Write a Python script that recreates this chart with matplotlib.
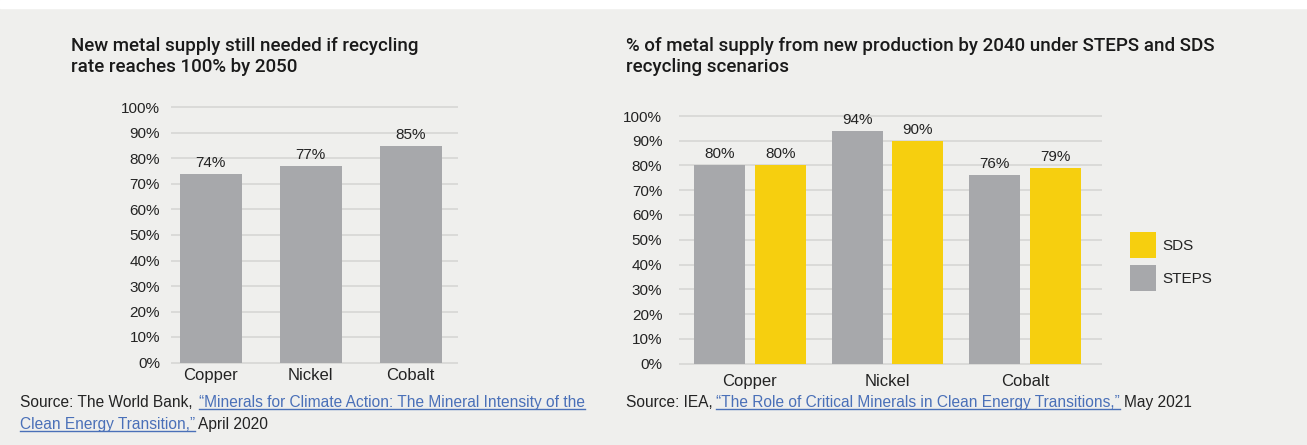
import matplotlib
matplotlib.use("Agg")
import matplotlib.pyplot as plt
from matplotlib.lines import Line2D
import numpy as np

plt.rcParams['font.family'] = ['Liberation Sans', 'DejaVu Sans']

# left chart (World Bank)
wb_metals = ["Copper", "Nickel", "Cobalt"]
wb_new_supply = [74, 77, 85]

# right chart (IEA)
iea_metals = ["Copper", "Nickel", "Cobalt"]
iea_steps = [80, 94, 76]
iea_sds = [80, 90, 79]

pct_ticks = list(range(0, 101, 10))

BG = "#efefed"
GREY = "#a7a8ab"
YELLOW = "#f6cf0f"
GRID = "#dadad8"
TXT = "#232323"
LINK = "#4a70b8"

W, H = 1307, 445
fig = plt.figure(figsize=(W / 100, H / 100), dpi=100, facecolor=BG)
fig.patches.append(plt.Rectangle((0, 1 - 8 / H), 1, 8 / H, transform=fig.transFigure,
                                 color="white", zorder=0))


def px_axes(x0, x1, y100, y0):
    # y100 / y0 = pixel rows of the 100% and 0% gridlines, pad 1 unit each side
    unit = (y0 - y100) / 100
    top = y100 - unit
    bot = y0 + unit
    ax = fig.add_axes([x0 / W, 1 - bot / H, (x1 - x0) / W, (bot - top) / H])
    ax.set_ylim(-1, 101)
    return ax


def style(ax, ypad, xpad):
    ax.set_facecolor("none")
    for s in ax.spines.values():
        s.set_visible(False)
    ax.set_yticks(pct_ticks)
    ax.set_yticklabels([f"{t}%" for t in pct_ticks])
    ax.yaxis.grid(True, color=GRID, lw=1.4)
    ax.set_axisbelow(True)
    ax.tick_params(axis='y', length=0, pad=ypad, labelsize=11, labelcolor=TXT)
    ax.tick_params(axis='x', length=0, pad=xpad, labelsize=12, labelcolor=TXT)


# ---- left
ax1 = px_axes(171, 458, 107.5, 362.5)
style(ax1, 8, 2)
x1 = np.arange(len(wb_metals))
b = ax1.bar(x1, wb_new_supply, width=0.62, color=GREY)
ax1.bar_label(b, labels=[f"{v}%" for v in wb_new_supply], padding=3, fontsize=11, color=TXT)
ax1.set_xticks(x1)
ax1.set_xticklabels(wb_metals)
ax1.set_xlim(-0.40, 2.475)

# ---- right
ax2 = px_axes(679, 1102, 116, 363.5)
style(ax2, 12, 6)
x2 = np.arange(len(iea_metals))
bs = ax2.bar(x2 - 0.22, iea_steps, width=0.371, color=GREY, label="STEPS")
bd = ax2.bar(x2 + 0.22, iea_sds, width=0.371, color=YELLOW, label="SDS")
ax2.bar_label(bs, labels=[f"{v}%" for v in iea_steps], padding=3, fontsize=11, color=TXT)
ax2.bar_label(bd, labels=[f"{v}%" for v in iea_sds], padding=3, fontsize=11, color=TXT)
ax2.set_xticks(x2)
ax2.set_xticklabels(iea_metals)
ax2.set_xlim(-0.516, 2.56)

ax2.legend(handles=[bd, bs], labels=["SDS", "STEPS"], loc="upper left",
           bbox_to_anchor=(1130 / W, 1 - 232 / H), bbox_transform=fig.transFigure,
           frameon=False, fontsize=11, handlelength=1.7, handleheight=2.2,
           handletextpad=0.4, labelspacing=0.5, borderpad=0, borderaxespad=0,
           labelcolor=TXT)

# ---- titles
tkw = dict(fontsize=13.5, fontweight="medium", family=["Roboto", "Liberation Sans"],
           color="#1a1a1a", va="baseline")
fig.text(71 / W, 1 - 51 / H, "New metal supply still needed if recycling", **tkw)
fig.text(71 / W, 1 - 72 / H, "rate reaches 100% by 2050", **tkw)
fig.text(626 / W, 1 - 51 / H, "% of metal supply from new production by 2040 under STEPS and SDS", **tkw)
fig.text(626 / W, 1 - 72 / H, "recycling scenarios", **tkw)

# ---- sources with underlined links
renderer = fig.canvas.get_renderer()
skw = dict(fontsize=11.2, va="baseline")


def source_line(x, y, pieces):
    for txt, is_link, gap in pieces:
        t = fig.text(x / W, 1 - y / H, txt, color=LINK if is_link else TXT, **skw)
        bb = t.get_window_extent(renderer)
        if is_link:
            fig.add_artist(Line2D([bb.x0 / W, bb.x1 / W], [1 - (y + 2) / H] * 2,
                                  transform=fig.transFigure, color=LINK, lw=1))
        x = bb.x1 + gap


source_line(20, 407, [("Source: The World Bank,", False, 6),
                      ("\u201cMinerals for Climate Action: The Mineral Intensity of the", True, 0)])
source_line(20, 429, [("Clean Energy Transition,\u201d", True, 3), ("April 2020", False, 0)])
source_line(626, 407, [("Source: IEA,", False, 3),
                       ("\u201cThe Role of Critical Minerals in Clean Energy Transitions,\u201d", True, 4),
                       ("May 2021", False, 0)])

fig.savefig("out.png", dpi=100, facecolor=BG)
